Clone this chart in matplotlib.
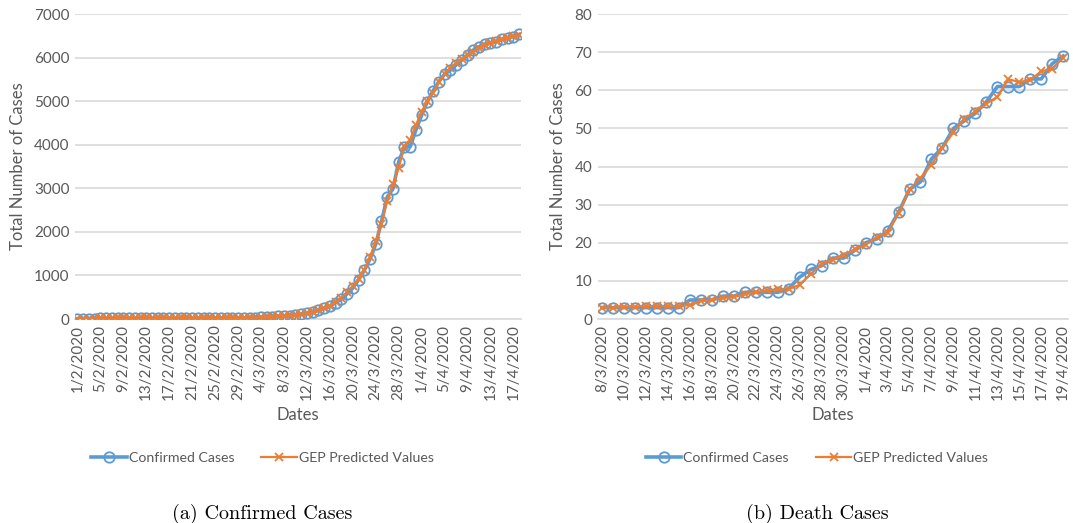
import matplotlib
matplotlib.use("Agg")
import matplotlib.pyplot as plt
import pandas as pd

# confirmed cases, 1/2/2020 .. 18/4/2020
conf_dates = pd.date_range("2020-02-01", "2020-04-18")
conf_actual = [9, 12, 12, 12, 13, 14, 15, 15, 15, 15, 15, 15, 15, 15, 15, 15, 15, 15, 15, 15, 15,
               17, 21, 22, 22, 22, 23, 23, 25,
               25, 27, 33, 39, 52, 55, 60, 74, 80, 92, 112, 127, 156, 197, 249, 298, 375,
               450, 580, 711, 900, 1116, 1376,
               1720, 2240, 2800, 2990, 3610, 3955, 3955, 4340, 4680, 4990, 5240, 5450, 5620,
               5715, 5830, 5945, 6060, 6175, 6250, 6305, 6340, 6365, 6420, 6460, 6480, 6535]
conf_pred = [10, 11, 12, 12, 13, 13, 14, 14, 15, 15, 15, 16, 16, 16, 17, 17, 17, 18, 18, 19, 19,
             20, 21, 22, 22, 23, 24, 25, 26,
             28, 30, 34, 40, 48, 55, 63, 72, 82, 95, 110, 130, 160, 200, 250, 310, 390,
             490, 620, 760, 930, 1130, 1420,
             1780, 2180, 2720, 3100, 3470, 3980, 4120, 4450, 4760, 5000, 5200, 5440, 5630,
             5760, 5870, 5960, 6060, 6140, 6220, 6290, 6340, 6390, 6430, 6460, 6490, 6520]

# death cases, 8/3/2020 .. 19/4/2020
death_dates = pd.date_range("2020-03-08", "2020-04-19")
death_actual = [3, 3, 3, 3, 3, 3, 3, 3, 5, 5, 5, 6, 6, 7, 7, 7, 7, 8,
                11, 13, 14, 16, 16, 18, 20, 21, 23,
                28, 34, 36, 42, 45, 50, 52, 54, 57,
                61, 61, 61, 63, 63, 67, 69]
death_pred = [2.9, 3.0, 3.2, 3.2, 3.3, 3.5, 3.3, 3.4, 3.7, 4.7, 5.0, 5.5, 5.8, 6.5, 7.0, 7.5, 7.8, 7.8,
              9.0, 11.8, 14.5, 15.5, 16.8, 18.3, 19.5, 21.5, 22.7,
              27.7, 34.0, 37.0, 40.5, 45.0, 49.0, 52.6, 54.5, 56.5,
              58.3, 62.9, 62.2, 62.7, 65.0, 65.7, 68.6]

BLUE = "#5B9BD5"
ORANGE = "#ED7D31"
GREY = "#595959"
GRID = "#D9D9D9"
FONT = "Lato"


def draw(ax, dates, actual, pred, ymax, step, every, caption, cx):
    x = list(range(len(dates)))
    labels = [f"{d.day}/{d.month}/{d.year}" for d in dates]
    ax.plot(x, actual, color=BLUE, lw=2.6, marker="o", ms=7.5, mfc="none",
            mec=BLUE, mew=1.3, label="Confirmed Cases", zorder=3)
    ax.plot(x, pred, color=ORANGE, lw=1.6, marker="x", ms=6, mew=1.3,
            label="GEP Predicted Values", zorder=4)
    ax.set_xlim(-0.4, len(x) - 0.6)
    ax.set_ylim(0, ymax)
    ax.set_yticks(range(0, ymax + 1, step))
    ax.set_xticks(x[::every])
    ax.set_xticklabels(labels[::every], rotation=90)
    ax.grid(axis="y", color=GRID, lw=1.2)
    ax.set_axisbelow(True)
    for s in ["top", "right", "left"]:
        ax.spines[s].set_visible(False)
    ax.spines["bottom"].set_color(GRID)
    ax.spines["bottom"].set_linewidth(1.2)
    ax.tick_params(length=0, colors=GREY, labelsize=11, pad=4)
    for t in ax.get_xticklabels() + ax.get_yticklabels():
        t.set_fontfamily(FONT)
    ax.set_xlabel("Dates", color=GREY, fontsize=12, fontfamily=FONT, labelpad=5)
    ax.set_ylabel("Total Number of Cases", color=GREY, fontsize=12, fontfamily=FONT, labelpad=6)
    leg = ax.legend(loc="center", bbox_to_anchor=(cx, -0.455), ncol=2, frameon=False,
                    prop={"family": FONT, "size": 10.2}, handlelength=2.5,
                    handletextpad=0.15, columnspacing=1.9)
    for t in leg.get_texts():
        t.set_color(GREY)
    ax.text(cx, -0.64, caption, transform=ax.transAxes, ha="center", va="center",
            fontfamily="cmr10", fontsize=14.5)


fig = plt.figure(figsize=(10.73, 5.23), dpi=100)
ax1 = fig.add_axes([0.070, 0.390, 0.416, 0.583])
ax2 = fig.add_axes([0.557, 0.390, 0.438, 0.583])

draw(ax1, conf_dates, conf_actual, conf_pred, 7000, 1000, 4, "(a) Confirmed Cases", 0.42)
draw(ax2, death_dates, death_actual, death_pred, 80, 10, 2, "(b) Death Cases", 0.467)

fig.savefig("out.png", dpi=100)
